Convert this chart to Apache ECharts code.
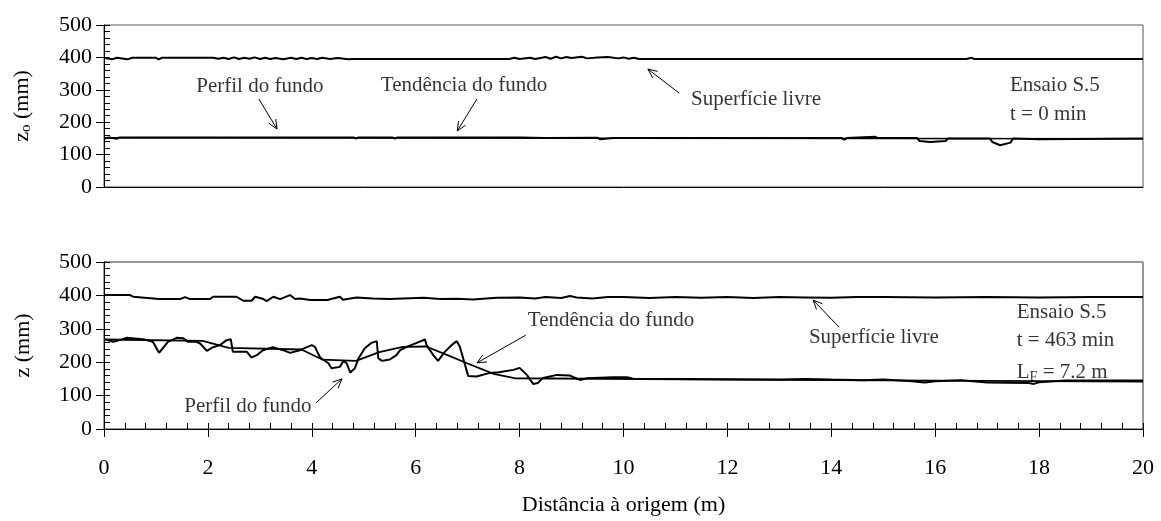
<!DOCTYPE html>
<html>
<head>
<meta charset="utf-8">
<script src="https://cdn.jsdelivr.net/npm/echarts@6/dist/echarts.min.js"></script>
<style>
  html, body { margin: 0; padding: 0; background: #fff; }
  #chart { width: 1161px; height: 521px; }
</style>
</head>
<body>
<div id="chart"></div>
<script>
// Ensaio S.5 - t = 0 min (painel superior)
const surf0X = [0, 0.15, 0.25, 0.45, 0.55, 1.0, 1.05, 1.12, 2.1, 2.2, 2.3, 2.4, 2.5, 2.6, 2.7, 2.8, 2.9, 3.0, 3.1, 3.2, 3.3, 3.45, 3.6, 3.7, 3.8, 3.9, 4.0, 4.1, 4.2, 4.35, 4.5, 4.7, 4.8, 5.0, 7.8, 7.9, 8.0, 8.2, 8.3, 8.5, 8.6, 8.7, 8.8, 8.9, 9.0, 9.2, 9.3, 9.5, 9.7, 9.9, 10.0, 10.1, 10.2, 10.3, 16.6, 16.7, 16.75, 20];
const surf0Z = [399, 394, 399, 394, 399, 399, 394, 399, 399, 396, 399, 395, 400, 395, 399, 396, 400, 395, 399, 395, 398, 394, 399, 395, 399, 395, 398, 395, 399, 395, 398, 394, 395, 395, 395, 399, 395, 399, 395, 401, 396, 402, 397, 401, 398, 402, 397, 400, 401, 397, 400, 396, 399, 395, 395, 399, 395, 395];
const bed0X = [0, 0.1, 0.25, 0.3, 4.8, 4.85, 4.9, 5.55, 5.6, 5.65, 8.0, 8.5, 9.5, 9.55, 9.8, 12, 14.2, 14.25, 14.3, 14.85, 14.9, 15.65, 15.7, 15.9, 16.2, 16.25, 17.05, 17.1, 17.25, 17.45, 17.5, 18.0, 20];
const bed0Z = [149, 153, 149, 153, 153, 149, 153, 153, 149, 153, 153, 151, 152, 147, 151, 151, 151, 146, 151, 155, 151, 151, 142, 139, 142, 150, 150, 139, 129, 137, 150, 147, 150];
const trend0X = [0, 20];
const trend0Z = [152, 149];

// Ensaio S.5 - t = 463 min (painel inferior)
const surf1X = [0, 0.5, 0.56, 0.95, 1.05, 1.46, 1.56, 1.66, 2.04, 2.1, 2.55, 2.68, 2.84, 2.91, 3.07, 3.13, 3.26, 3.39, 3.58, 3.68, 3.77, 3.97, 4.3, 4.54, 4.6, 4.86, 5.18, 5.5, 5.76, 6.15, 6.47, 6.8, 7.1, 7.56, 8.0, 8.3, 8.5, 8.8, 8.97, 9.1, 9.4, 9.7, 10, 10.5, 11, 11.5, 12, 12.5, 13, 13.5, 14, 14.5, 15, 16, 17, 18, 19, 20];
const surf1Z = [401, 401, 396, 391, 389, 389, 395, 389, 389, 396, 396, 384, 384, 396, 389, 383, 396, 389, 401, 389, 391, 386, 386, 396, 387, 394, 391, 389, 391, 393, 389, 390, 388, 393, 394, 391, 395, 392, 398, 394, 391, 395, 395, 392, 395, 393, 395, 392, 395, 394, 393, 395, 395, 394, 395, 394, 395, 395];
const bed1X = [0, 0.18, 0.3, 0.44, 0.75, 0.94, 1.06, 1.23, 1.40, 1.52, 1.62, 1.78, 1.85, 1.98, 2.10, 2.23, 2.36, 2.44, 2.48, 2.75, 2.84, 2.94, 3.06, 3.25, 3.45, 3.58, 3.77, 4.0, 4.06, 4.16, 4.32, 4.38, 4.54, 4.61, 4.67, 4.74, 4.83, 4.90, 5.02, 5.15, 5.25, 5.28, 5.35, 5.50, 5.63, 5.70, 5.86, 6.02, 6.18, 6.21, 6.34, 6.43, 6.56, 6.69, 6.79, 6.85, 6.95, 7.01, 7.17, 7.43, 7.6, 7.88, 8.0, 8.14, 8.26, 8.35, 8.45, 8.72, 8.97, 9.16, 9.3, 9.8, 10.07, 10.2, 11, 12, 13, 13.5, 14, 14.6, 15.0, 15.5, 15.8, 16, 16.5, 17, 17.8, 17.9, 18, 18.5, 19, 20];
const bed1Z = [269, 261, 266, 273, 269, 261, 228, 261, 273, 272, 261, 261, 256, 234, 245, 251, 266, 269, 231, 231, 214, 221, 236, 245, 236, 228, 236, 251, 246, 214, 197, 182, 186, 204, 197, 169, 182, 212, 242, 258, 263, 212, 204, 208, 221, 236, 248, 258, 268, 251, 221, 204, 231, 251, 263, 246, 192, 159, 157, 168, 170, 177, 183, 162, 135, 138, 153, 162, 160, 147, 152, 155, 155, 150, 150, 149, 148, 150, 148, 146, 148, 144, 139, 143, 146, 139, 138, 135, 140, 145, 145, 145];
const trend1X = [0, 1.9, 2.4, 3.8, 4.2, 4.85, 5.3, 5.75, 6.2, 6.6, 7.0, 7.5, 7.9, 12, 20];
const trend1Z = [268, 264, 243, 238, 208, 204, 230, 246, 247, 222, 196, 165, 152, 148, 142];

// anotações: [x, z] no referencial dos eixos
const notes0 = [
  { name: 'Perfil do fundo', value: [3.0, 310] },
  { name: 'Tendência do fundo', value: [6.93, 313] },
  { name: 'Superfície livre', value: [12.55, 270] }
];
const arrows0 = [[2.98, 272, 3.33, 179], [7.18, 272, 6.80, 173], [11.07, 290, 10.47, 364]];
const info0 = [
  { name: 'Ensaio S.5', value: [17.44, 313] },
  { name: 't = 0 min', value: [17.44, 223] }
];
const notes1 = [
  { name: 'Perfil do fundo', value: [2.77, 67] },
  { name: 'Tendência do fundo', value: [9.76, 324] },
  { name: 'Superfície livre', value: [14.82, 273] }
];
const arrows1 = [[4.08, 78, 4.58, 150], [8.12, 281, 7.18, 198], [14.15, 305, 13.65, 386]];
const info1 = [
  { name: 'Ensaio S.5', value: [17.57, 348] },
  { name: 't = 463 min', value: [17.57, 264] },
  { name: '{a|L}{s|F}{a| = 7.2 m}', value: [17.57, 168] }
];

const FONT = 'Liberation Serif';
const pairs = (xs, zs) => xs.map((x, i) => [x, zs[i]]);

function renderArrow(params, api) {
  const p0 = api.coord([api.value(0), api.value(1)]);
  const p1 = api.coord([api.value(2), api.value(3)]);
  const a = Math.atan2(p1[1] - p0[1], p1[0] - p0[0]);
  const h = 10, w = 0.42;
  const l = [p1[0] - h * Math.cos(a - w), p1[1] - h * Math.sin(a - w)];
  const r = [p1[0] - h * Math.cos(a + w), p1[1] - h * Math.sin(a + w)];
  const st = { stroke: '#000', lineWidth: 1, fill: null };
  return {
    type: 'group',
    children: [
      { type: 'line', shape: { x1: p0[0], y1: p0[1], x2: p1[0], y2: p1[1] }, style: st },
      { type: 'polyline', shape: { points: [l, p1, r] }, style: st }
    ]
  };
}

const chart = echarts.init(document.getElementById('chart'), null, { renderer: 'canvas' });

function line(data, xi, yi, w) {
  return {
    type: 'line', data: data, xAxisIndex: xi, yAxisIndex: yi,
    showSymbol: false, symbol: 'none', silent: true,
    lineStyle: { color: '#000', width: w || 2 }
  };
}
function labels(data, xi, yi, align) {
  return {
    type: 'scatter', data: data, xAxisIndex: xi, yAxisIndex: yi,
    symbolSize: 0, silent: true,
    label: {
      show: true, position: 'inside', align: align, formatter: '{b}',
      color: '#000', fontFamily: FONT, fontSize: 21,
      rich: {
        a: { fontFamily: FONT, fontSize: 21, color: '#000' },
        s: { fontFamily: FONT, fontSize: 14, color: '#000', verticalAlign: 'bottom', padding: [8, 0, 0, 0] }
      }
    }
  };
}
function arrows(data, xi, yi) {
  return { type: 'custom', data: data, xAxisIndex: xi, yAxisIndex: yi, silent: true, renderItem: renderArrow, clip: false };
}

const tickLabel = { color: '#000', fontFamily: FONT, fontSize: 22 };
function valueY(gridIndex, extra) {
  return Object.assign({
    type: 'value', gridIndex: gridIndex, position: 'left', min: 0, max: 500, interval: 100,
    splitLine: { show: false },
    axisLine: { show: true, onZero: false, lineStyle: { color: '#000', width: 1 } },
    axisTick: { show: true, inside: true, length: 6, lineStyle: { color: '#000' } },
    minorTick: { show: true, splitNumber: 5, length: 6, lineStyle: { color: '#000' } },
    axisLabel: Object.assign({ margin: 12 }, tickLabel),
    nameLocation: 'middle', nameGap: 70,
    nameTextStyle: { color: '#000', fontFamily: FONT, fontSize: 22 }
  }, extra);
}
function outwardY(gridIndex) {
  return {
    type: 'value', gridIndex: gridIndex, position: 'left', offset: 0, min: 0, max: 500, interval: 100,
    splitLine: { show: false }, axisLine: { show: false }, axisLabel: { show: false },
    axisTick: { show: true, inside: false, length: 8, lineStyle: { color: '#000' } }
  };
}

chart.setOption({
  animation: false,
  backgroundColor: '#fff',
  grid: [
    { left: 104, right: 18, top: 25, height: 162, show: true, borderColor: '#555', borderWidth: 1, backgroundColor: 'transparent' },
    { left: 104, right: 18, top: 262, height: 167, show: true, borderColor: '#333', borderWidth: 1, backgroundColor: 'transparent' }
  ],
  xAxis: [
    {
      type: 'value', gridIndex: 0, position: 'bottom', min: 0, max: 20, interval: 2,
      splitLine: { show: false }, axisLabel: { show: false }, axisTick: { show: false },
      axisLine: { show: true, onZero: false, lineStyle: { color: '#000', width: 1 } }
    },
    {
      type: 'value', gridIndex: 1, position: 'bottom', min: 0, max: 20, interval: 2,
      splitLine: { show: false },
      axisLine: { show: true, onZero: false, lineStyle: { color: '#000', width: 1 } },
      axisTick: { show: true, inside: true, length: 6, lineStyle: { color: '#000' } },
      minorTick: { show: true, splitNumber: 5, length: 6, lineStyle: { color: '#000' } },
      axisLabel: Object.assign({ margin: 28 }, tickLabel),
      name: 'Distância à origem (m)', nameLocation: 'middle', nameGap: 65,
      nameTextStyle: { color: '#000', fontFamily: FONT, fontSize: 22 }
    },
    {
      type: 'value', gridIndex: 1, position: 'bottom', offset: 0, min: 0, max: 20, interval: 2,
      splitLine: { show: false }, axisLine: { show: false }, axisLabel: { show: false },
      axisTick: { show: true, inside: false, length: 8, lineStyle: { color: '#000' } }
    }
  ],
  yAxis: [
    valueY(0, {
      name: '{z|z}{s|o}{z| (mm)}',
      nameTextStyle: {
        color: '#000', fontFamily: FONT, fontSize: 22,
        rich: {
          z: { fontFamily: FONT, fontSize: 22, color: '#000' },
          s: { fontFamily: FONT, fontSize: 15, color: '#000', verticalAlign: 'bottom', padding: [8, 0, 0, 0] }
        }
      }
    }),
    valueY(1, { name: 'z (mm)' }),
    outwardY(0),
    outwardY(1)
  ],
  series: [
    line(pairs(surf0X, surf0Z), 0, 0),
    line(pairs(bed0X, bed0Z), 0, 0),
    line(pairs(trend0X, trend0Z), 0, 0, 1.6),
    line(pairs(surf1X, surf1Z), 1, 1),
    line(pairs(bed1X, bed1Z), 1, 1),
    line(pairs(trend1X, trend1Z), 1, 1, 1.8),
    arrows(arrows0, 0, 0),
    arrows(arrows1, 1, 1),
    labels(notes0, 0, 0, 'center'),
    labels(notes1, 1, 1, 'center'),
    labels(info0, 0, 0, 'left'),
    labels(info1, 1, 1, 'left')
  ]
});
</script>
</body>
</html>
